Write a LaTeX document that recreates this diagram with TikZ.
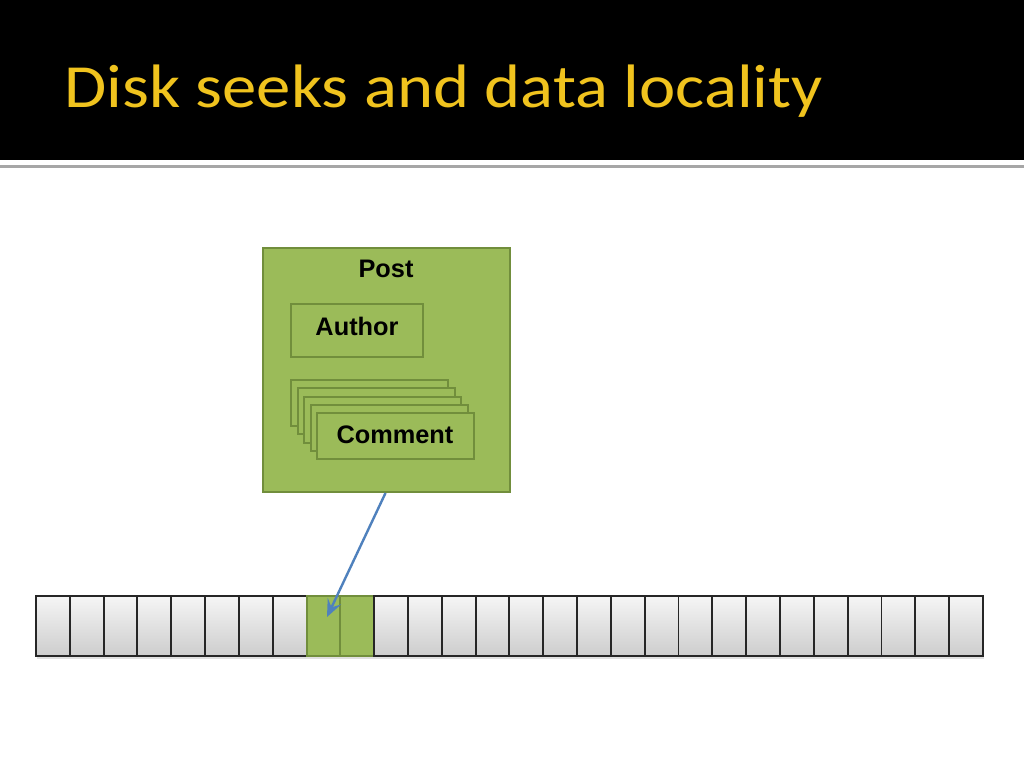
\documentclass[tikz,border=0pt]{standalone}
\usepackage{fontspec}
\setmainfont{Liberation Sans}
\newfontfamily\titlefont{Carlito}
\usetikzlibrary{arrows.meta}
\definecolor{ttlyellow}{RGB}{240,195,30}
\definecolor{boxgreen}{RGB}{155,187,89}
\definecolor{boxedge}{RGB}{113,142,60}
\definecolor{arrblue}{RGB}{79,129,189}
\definecolor{cellTop}{RGB}{245,245,245}
\definecolor{cellBot}{RGB}{205,205,205}
\tikzset{
  px/.style={x=0.75pt,y=-0.75pt},
  greenbox/.style={draw=boxedge,fill=boxgreen,line width=1.5pt},
  label/.style={font=\bfseries\fontsize{19pt}{22pt}\selectfont,text=black},
  cell/.style={draw=black!85,line width=1.4pt,top color=cellTop,bottom color=cellBot},
  gcell/.style={draw=boxedge,fill=boxgreen,line width=1.5pt},
  link/.style={draw=arrblue,line width=1.8pt,-{Stealth[length=13pt,width=11pt,inset=5pt]}}
}
\begin{document}
\begin{tikzpicture}[px]
\useasboundingbox (0,0) rectangle (1024,768);
\fill[white] (0,0) rectangle (1024,768);
% title band
\fill[black] (0,0) rectangle (1024,160);
\fill[gray!70] (0,165) rectangle (1024,167.5);
\node[anchor=base west,inner sep=0pt,text=ttlyellow,xscale=1.12,font=\titlefont\fontsize{46pt}{50pt}\selectfont] (title) at (64,107) {Disk seeks and data locality};
% Post box
\node[greenbox,minimum width=247*0.75pt,minimum height=244*0.75pt,inner sep=0pt,anchor=north west] (post) at (262,247) {};
\node[label,anchor=center] (posttxt) at (386,269) {Post};
\node[greenbox,minimum width=132*0.75pt,minimum height=53*0.75pt,inner sep=0pt,anchor=north west] (author) at (290,303) {};
\node[label] (authortxt) at (357,326) {Author};
% comment stack
\foreach \i in {0,...,4}{
  \node[greenbox,minimum width=157*0.75pt,minimum height=46*0.75pt,inner sep=0pt,anchor=north west] (c\i) at (290+6.5*\i,379+8.25*\i) {};
}
\node[label] (commenttxt) at (395,435) {Comment};
% strip shadow
\fill[black!12] (37,655) rectangle (984,659);
% disk strip
\foreach \k in {0,...,27}{
  \pgfmathsetmacro{\xl}{35+33.82*\k}
  \ifnum\k=8\relax
    \node[gcell,minimum width=33.82*0.75pt,minimum height=60*0.75pt,inner sep=0pt,anchor=north west] (d\k) at (\xl,595) {};
  \else\ifnum\k=9\relax
    \node[gcell,minimum width=33.82*0.75pt,minimum height=60*0.75pt,inner sep=0pt,anchor=north west] (d\k) at (\xl,595) {};
  \else
    \node[cell,minimum width=33.82*0.75pt,minimum height=60*0.75pt,inner sep=0pt,anchor=north west] (d\k) at (\xl,595) {};
  \fi\fi
}
\coordinate (tip) at (327,617);
\draw[link] (post.south) ++(-1,0) -- (tip);
\end{tikzpicture}
\end{document}
